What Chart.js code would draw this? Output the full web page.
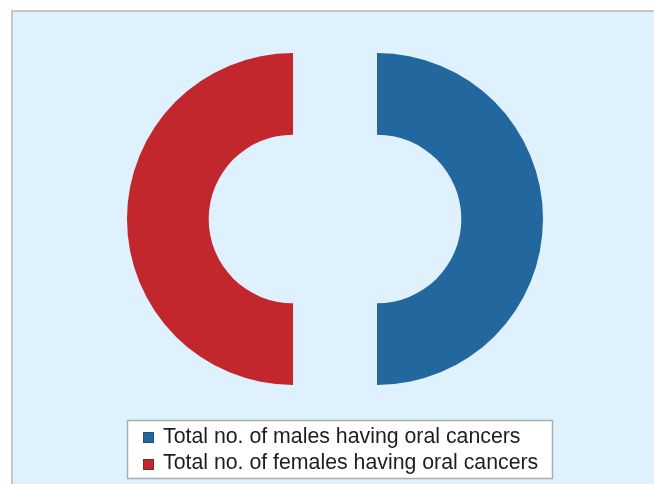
<!DOCTYPE html>
<html>
<head>
<meta charset="utf-8">
<script src="https://cdn.jsdelivr.net/npm/chart.js@4"></script>
<style>
  html, body { margin: 0; padding: 0; background: #ffffff; }
  #wrap { position: relative; width: 654px; height: 484px; }
</style>
</head>
<body>
<div id="wrap"><canvas id="chart" width="654" height="484"></canvas></div>
<script>
// Share of oral cancer cases by sex
const categories = [
  'Total no. of males having oral cancers',
  'Total no. of females having oral cancers'
];
const caseShares = [50, 50];
const sliceColors = ['#22679d', '#c1272d'];

// Panel background with a thin grey frame on the top and left edges
const panelBackground = {
  id: 'panelBackground',
  beforeDraw(chart) {
    const ctx = chart.ctx;
    ctx.save();
    ctx.fillStyle = '#ffffff';
    ctx.fillRect(0, 0, chart.width, chart.height);
    ctx.fillStyle = '#dff1fc';
    ctx.fillRect(11, 10, chart.width - 11, chart.height - 10);
    ctx.fillStyle = '#c3c7cb';
    ctx.fillRect(11, 10, chart.width - 11, 2);
    ctx.fillRect(11, 10, 2, chart.height - 10);
    ctx.restore();
  }
};

// Pull each slice outward along its middle angle, keeping its shape
const explodeSlices = {
  id: 'explodeSlices',
  afterDatasetsUpdate(chart, args, opts) {
    const gap = opts.distance || 0;
    chart.getDatasetMeta(0).data.forEach(arc => {
      const mid = (arc.startAngle + arc.endAngle) / 2;
      arc.x += Math.cos(mid) * gap;
      arc.y += Math.sin(mid) * gap;
    });
  }
};

// Boxed legend listing the categories
const boxedLegend = {
  id: 'boxedLegend',
  afterDraw(chart, args, opts) {
    const ctx = chart.ctx;
    const { left, top, width, height, rowHeight, font } = opts;
    ctx.save();
    ctx.fillStyle = '#ffffff';
    ctx.fillRect(left, top, width, height);
    ctx.strokeStyle = '#a9adb1';
    ctx.lineWidth = 1.5;
    ctx.strokeRect(left + 0.5, top + 0.5, width, height);
    ctx.font = font;
    ctx.textBaseline = 'middle';
    categories.forEach((label, i) => {
      const cy = top + 17 + i * rowHeight;
      ctx.fillStyle = sliceColors[i];
      ctx.fillRect(left + 16, cy - 5 + i, 11, 11);
      ctx.strokeStyle = 'rgba(40,40,40,0.35)';
      ctx.lineWidth = 1;
      ctx.strokeRect(left + 16.5, cy - 4.5 + i, 10, 10);
      ctx.fillStyle = '#1e1e1e';
      ctx.fillText(label, left + 36, cy);
    });
    ctx.restore();
  }
};

new Chart(document.getElementById('chart'), {
  type: 'doughnut',
  data: {
    labels: categories,
    datasets: [{
      data: caseShares,
      backgroundColor: sliceColors,
      borderWidth: 0
    }]
  },
  options: {
    responsive: false,
    animation: false,
    radius: 166,
    cutout: '50.8%',
    layout: { padding: { left: 16, right: 0, top: 10, bottom: 56 } },
    plugins: {
      legend: { display: false },
      tooltip: { enabled: false },
      explodeSlices: { distance: 42 },
      boxedLegend: {
        left: 127, top: 420, width: 425, height: 58, rowHeight: 26,
        font: '21.3px "Liberation Sans", Arial, sans-serif'
      }
    }
  },
  plugins: [panelBackground, explodeSlices, boxedLegend]
});
</script>
</body>
</html>
